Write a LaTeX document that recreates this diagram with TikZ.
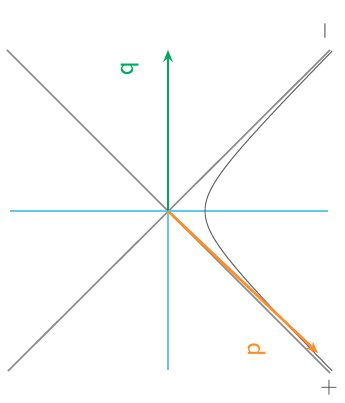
\documentclass[tikz,border=0pt]{standalone}
\usepackage{tikz}
\usetikzlibrary{positioning, arrows.meta}

\definecolor{axisblue}{RGB}{100,200,230}
\definecolor{qgreen}{RGB}{0,168,95}
\definecolor{porange}{RGB}{255,140,40}

\begin{document}
\begin{tikzpicture}[
    x=0.03cm, y=-0.03cm,
    cone/.style={
        draw=black!45,
        line width=1.4pt
    },
    axis/.style={
        draw=axisblue,
        line width=1.6pt
    },
    hyper/.style={
        draw=black!60,
        line width=0.9pt
    },
    vec/.style={
        line width=2.2pt,
        -{Stealth[length=10pt, width=8pt]}
    },
    lab/.style={
        rotate=90,
        font=\fontsize{24}{28}\selectfont\sffamily,
        inner sep=0pt
    },
    sign/.style={
        rotate=90,
        font=\fontsize{20}{24}\selectfont,
        text=black!75,
        inner sep=0pt
    }
]
\useasboundingbox (0,0) rectangle (344,403);

% Origin and end points
\coordinate (O) at (168,211);
\coordinate (tl) at (7,50);
\coordinate (tr) at (330,50);
\coordinate (bl) at (8,371);
\coordinate (br) at (330,373);
\coordinate (left) at (10,211);
\coordinate (right) at (328,211);
\coordinate (down) at (168,370);
\coordinate (qtip) at (168,50);
\coordinate (ptip) at (318,353);

% Light cone
\draw[cone] (tl) -- (br);
\draw[cone] (bl) -- (tr);

% Axes
\draw[axis] (left) -- (right);
\draw[axis] (O) -- (down);

% Hyperbola branch
\draw[hyper] plot[domain=-2.17:2.17, samples=80, variable=\t]
    ({168+37*cosh(\t)}, {211+37*sinh(\t)});

% Vectors
\draw[vec, qgreen] (O) -- (qtip);
\draw[vec, porange] (O) -- (ptip);

% Labels
\node[lab, text=qgreen] (qlabel) at (130,69) {q};
\node[lab, text=porange] (plabel) at (257,350) {p};
\node[sign] (minus) at (325,31) {$-$};
\node[sign] (plus) at (329,388) {$+$};

\end{tikzpicture}
\end{document}
